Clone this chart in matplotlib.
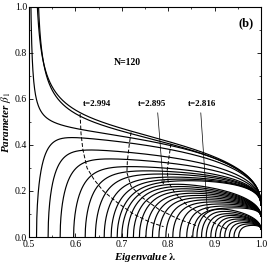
import numpy as np
import matplotlib
matplotlib.use("Agg")
import matplotlib.pyplot as plt
from matplotlib.ticker import MultipleLocator

plt.rcParams['font.family'] = ['Liberation Serif', 'DejaVu Serif']
plt.rcParams['mathtext.fontset'] = 'stix'

# top family: branches meet lambda=1 near beta=0.14
top_e, top_q = 0.14, 0.45
# branches that leave through the top of the frame: (a, p, C, D)
top_asym = [
    (0.500, -1.0, 0.0042, 0.47),
    (0.510, -0.5, 0.0765, 0.398),
    (0.514, -0.5, 0.0700, 0.392),
]
# branches that start on the lambda axis: start, peak height, bend width
top_start = [0.516, 0.541, 0.567, 0.596, 0.621, 0.643, 0.662, 0.677, 0.690]
top_peak = [0.43, 0.375, 0.335, 0.30, 0.28, 0.265, 0.25, 0.24, 0.232]
top_bend = [0.018, 0.022, 0.026, 0.030, 0.033, 0.036, 0.038, 0.040, 0.042]

mid_e, mid_q = 0.09, 0.5
mid_start = [0.700, 0.712, 0.725, 0.738, 0.752, 0.766, 0.780, 0.795, 0.810, 0.825, 0.840, 0.853]
mid_peak = [0.225, 0.215, 0.205, 0.195, 0.185, 0.175, 0.165, 0.155, 0.145, 0.135, 0.125, 0.115]
mid_bend = [0.055, 0.051, 0.047, 0.043, 0.040, 0.036, 0.033, 0.030, 0.027, 0.024, 0.021, 0.019]

in_e, in_q = 0.035, 0.5
in_start = [0.862, 0.872, 0.882, 0.892, 0.902, 0.912, 0.922, 0.932, 0.942, 0.952]
in_peak = [0.12, 0.11, 0.10, 0.092, 0.084, 0.076, 0.068, 0.060, 0.053, 0.046]
in_bend = [0.030, 0.027, 0.024, 0.022, 0.020, 0.018, 0.016, 0.014, 0.012, 0.010]

# dashed lines of constant t
dash1_x = [0.610, 0.612, 0.616, 0.625, 0.640, 0.660, 0.690, 0.725, 0.760, 0.790]
dash1_y = [0.535, 0.450, 0.380, 0.300, 0.250, 0.200, 0.150, 0.100, 0.065, 0.045]
dash2_x = [0.720, 0.716, 0.712, 0.711, 0.720, 0.745, 0.780, 0.820, 0.860]
dash2_y = [0.455, 0.400, 0.330, 0.280, 0.220, 0.170, 0.120, 0.080, 0.050]
dash3_x = [0.806, 0.802, 0.798, 0.800, 0.815, 0.840, 0.870, 0.900, 0.930]
dash3_y = [0.405, 0.350, 0.290, 0.240, 0.190, 0.140, 0.100, 0.060, 0.030]

labels = ['t=2.994', 't=2.895', 't=2.816']
label_x = [0.647, 0.766, 0.874]
label_y = 0.578
arrow_from = [(0.777, 0.552), (0.870, 0.552)]
arrow_to = [(0.790, 0.217), (0.885, 0.100)]


def asym_branch(a, p, C, D, e, q):
    lam = np.linspace(a + 1e-5, 1.0, 800)
    u = (lam - a) / (1 - a)
    return lam, e * u + (C * u**p + D) * (1 - u)**q


def axis_branch(a, h, w, e, q):
    lam = np.linspace(a, 1.0, 800)
    u = (lam - a) / (1 - a)
    g = np.sqrt(1 - np.exp(-(lam - a) / w)) * (1 - u)**q
    k = np.argmax(g)
    C = (h - e * u[k]) / g[k]
    return lam, e * u + C * g


fig = plt.figure(figsize=(2.67, 2.66), dpi=100)
ax = fig.add_axes([0.109, 0.109, 0.868, 0.865])

for a, p, C, D in top_asym:
    x, y = asym_branch(a, p, C, D, top_e, top_q)
    ax.plot(x, y, c='k', lw=0.85)
for starts, peaks, bends, e, q in [(top_start, top_peak, top_bend, top_e, top_q),
                                   (mid_start, mid_peak, mid_bend, mid_e, mid_q),
                                   (in_start, in_peak, in_bend, in_e, in_q)]:
    for a, h, w in zip(starts, peaks, bends):
        x, y = axis_branch(a, h, w, e, q)
        ax.plot(x, y, c='k', lw=0.85)

for dx, dy in [(dash1_x, dash1_y), (dash2_x, dash2_y), (dash3_x, dash3_y)]:
    ax.plot(dx, dy, c='k', lw=0.7, ls=(0, (4, 2)))

for s, lx in zip(labels, label_x):
    ax.text(lx, label_y, s, fontsize=6.5, fontweight='bold', ha='center', va='center')
for (x0, y0), (x1, y1) in zip(arrow_from, arrow_to):
    ax.annotate('', xy=(x1, y1), xytext=(x0, y0),
                arrowprops=dict(arrowstyle='->', lw=0.5, color='k', mutation_scale=5))

ax.text(0.712, 0.76, 'N=120', fontsize=7, fontweight='bold', ha='center', va='center')
ax.text(0.968, 0.93, '(b)', fontsize=9, fontweight='bold', ha='center', va='center')

ax.set_xlim(0.5, 1.0)
ax.set_ylim(0.0, 1.0)
ax.xaxis.set_major_locator(MultipleLocator(0.1))
ax.xaxis.set_minor_locator(MultipleLocator(0.05))
ax.yaxis.set_major_locator(MultipleLocator(0.2))
ax.yaxis.set_minor_locator(MultipleLocator(0.1))
ax.xaxis.set_major_formatter(plt.FuncFormatter(lambda v, _: f'{v:.1f}'))
ax.yaxis.set_major_formatter(plt.FuncFormatter(lambda v, _: f'{v:.1f}'))
ax.tick_params(which='both', direction='in', top=True, right=True, labelsize=7)
ax.tick_params(axis='x', pad=2.5)
ax.tick_params(axis='y', pad=1.5)
ax.tick_params(which='major', length=3, width=0.6)
ax.tick_params(which='minor', length=1.5, width=0.5)
for s in ax.spines.values():
    s.set_linewidth(0.8)

ax.set_xlabel('Eigenvalue $\\boldsymbol{\\lambda}$', fontsize=8, fontweight='bold', style='italic', labelpad=1)
ax.set_ylabel('Parameter $\\boldsymbol{\\beta_1}$', fontsize=8, fontweight='bold', style='italic', labelpad=1)

fig.savefig('out.png', dpi=100)
